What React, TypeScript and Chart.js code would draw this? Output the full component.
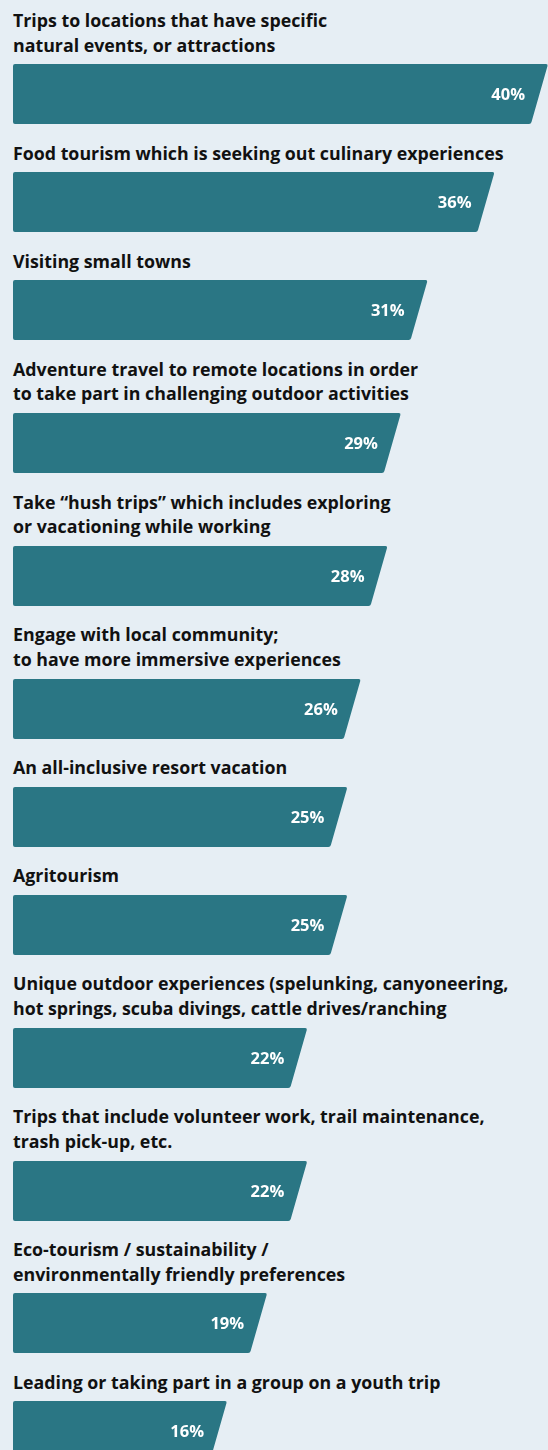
import React, { useEffect, useRef } from "react";
import { Chart, registerables } from "chart.js";

Chart.register(...registerables);

const categories: string[][] = [
  ["Trips to locations that have specific", "natural events, or attractions"],
  ["Food tourism which is seeking out culinary experiences"],
  ["Visiting small towns"],
  ["Adventure travel to remote locations in order", "to take part in challenging outdoor activities"],
  ["Take \u201chush trips\u201d which includes exploring", "or vacationing while working"],
  ["Engage with local community;", "to have more immersive experiences"],
  ["An all-inclusive resort vacation"],
  ["Agritourism"],
  ["Unique outdoor experiences (spelunking, canyoneering,", "hot springs, scuba divings, cattle drives/ranching"],
  ["Trips that include volunteer work, trail maintenance,", "trash pick-up, etc."],
  ["Eco-tourism / sustainability /", "environmentally friendly preferences"],
  ["Leading or taking part in a group on a youth trip"],
];

const values: number[] = [40, 36, 31, 29, 28, 26, 25, 25, 22, 22, 19, 16];
const valueLabels: string[] = values.map((v) => `${v}%`);

const BG = "#e6eef4";
const BAR = "#2a7684";
const TEXT = "#111111";

const slantPlugin = {
  id: "slantBars",
  afterDatasetsDraw(chart: any) {
    const ctx = chart.ctx as CanvasRenderingContext2D;
    const meta = chart.getDatasetMeta(0);
    meta.data.forEach((el: any, i: number) => {
      const p = el.getProps(["x", "y", "base", "height"], true);
      const top = p.y - p.height / 2;
      const bottom = p.y + p.height / 2;
      const left = p.base;
      const right = p.x;
      const slant = 17;
      const r = 2;
      ctx.save();
      ctx.fillStyle = BAR;
      ctx.beginPath();
      ctx.moveTo(left + r, top);
      ctx.lineTo(right - r, top);
      ctx.quadraticCurveTo(right, top, right - 0.5, top + r);
      ctx.lineTo(right - slant + 0.5, bottom - r);
      ctx.quadraticCurveTo(right - slant, bottom, right - slant - r, bottom);
      ctx.lineTo(left + r, bottom);
      ctx.quadraticCurveTo(left, bottom, left, bottom - r);
      ctx.lineTo(left, top + r);
      ctx.quadraticCurveTo(left, top, left + r, top);
      ctx.closePath();
      ctx.fill();
      const lbl = chart.data.datasets[0].valueLabels[i];
      ctx.fillStyle = "#ffffff";
      ctx.font = "bold 16.5px 'Open Sans', sans-serif";
      ctx.textAlign = "right";
      ctx.textBaseline = "middle";
      ctx.fillText(lbl, right - 23, p.y + 1);
      ctx.restore();
    });
  },
};

function BarRow({ lines, value, label }: { lines: string[]; value: number; label: string }) {
  const ref = useRef<HTMLCanvasElement | null>(null);
  useEffect(() => {
    if (!ref.current) return;
    const chart = new Chart(ref.current, {
      type: "bar",
      data: {
        labels: [lines.join(" ")],
        datasets: [
          {
            data: [value],
            backgroundColor: "rgba(0,0,0,0)",
            borderWidth: 0,
            categoryPercentage: 1,
            barPercentage: 1,
            valueLabels: [label],
          } as any,
        ],
      },
      options: {
        indexAxis: "y",
        responsive: false,
        animation: false,
        layout: { padding: { left: 13, right: 0, top: 0, bottom: 0 } },
        scales: {
          x: { min: 0, max: 40, display: false },
          y: { display: false },
        },
        plugins: { legend: { display: false }, tooltip: { enabled: false } },
      },
      plugins: [slantPlugin],
    });
    return () => chart.destroy();
  }, [lines, value, label]);

  return (
    <div style={{ paddingTop: 7.8, paddingBottom: 8.6 }}>
      <div
        style={{
          paddingLeft: 13,
          paddingBottom: 7,
          lineHeight: "24.7px",
          fontFamily: "'Open Sans', sans-serif",
          fontWeight: 700,
          fontSize: 17.8,
          color: TEXT,
          whiteSpace: "nowrap",
        }}
      >
        {lines.map((l, i) => (
          <div key={i}>{l}</div>
        ))}
      </div>
      <canvas
        ref={ref}
        width={548}
        height={60}
        style={{ display: "block", width: 548, height: 60 }}
      />
    </div>
  );
}

export default function App() {
  return (
    <div
      style={{
        position: "absolute",
        top: 0,
        left: 0,
        width: 548,
        height: 1450,
        overflow: "hidden",
        background: BG,
      }}
    >
      {categories.map((lines, i) => (
        <BarRow key={i} lines={lines} value={values[i]} label={valueLabels[i]} />
      ))}
    </div>
  );
}
